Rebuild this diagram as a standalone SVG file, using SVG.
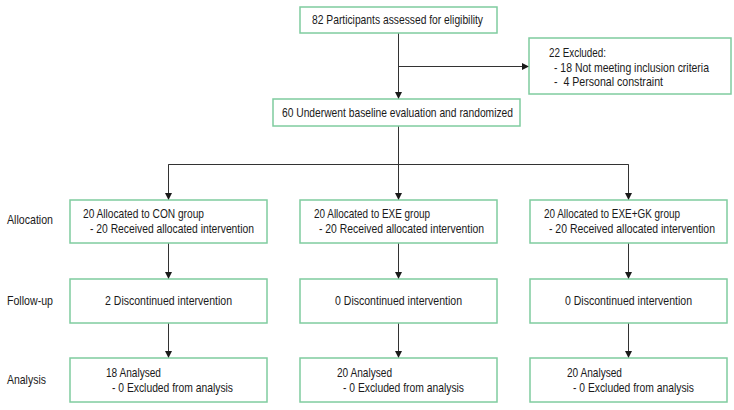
<svg xmlns="http://www.w3.org/2000/svg" width="734" height="410" viewBox="0 0 734 410">
<style>
.box{fill:#fff;stroke:#7fcc9f;stroke-width:1.5}
.t{font-family:"Liberation Sans",Arial,sans-serif;font-size:12.8px;fill:#1a1a1a;transform:scale(0.82,1);transform-origin:0 0}
.c{text-anchor:middle}
.ln{fill:none;stroke:#333;stroke-width:1}
</style>
<defs>
<marker id="ah" viewBox="0 0 10 10" refX="10" refY="5" markerWidth="7" markerHeight="10" markerUnits="userSpaceOnUse" orient="auto">
<path d="M0,0 L10,5 L0,10 Z" fill="#1a1a1a"/>
</marker>
</defs>
<rect width="734" height="410" fill="#fff"/>
<g id="connectors">
<line class="ln" x1="398.5" y1="33" x2="398.5" y2="99" marker-end="url(#ah)"/>
<line class="ln" x1="398.5" y1="66.5" x2="529" y2="66.5" marker-end="url(#ah)"/>
<polyline class="ln" points="398.5,126 398.5,164.5"/>
<polyline class="ln" points="168.5,200 168.5,164.5 628.5,164.5 628.5,200"/>
<line class="ln" x1="168.5" y1="164.5" x2="168.5" y2="200" marker-end="url(#ah)"/>
<line class="ln" x1="398.5" y1="164.5" x2="398.5" y2="200" marker-end="url(#ah)"/>
<line class="ln" x1="628.5" y1="164.5" x2="628.5" y2="200" marker-end="url(#ah)"/>
<line class="ln" x1="168.5" y1="243" x2="168.5" y2="279" marker-end="url(#ah)"/>
<line class="ln" x1="398.5" y1="243" x2="398.5" y2="279" marker-end="url(#ah)"/>
<line class="ln" x1="628.5" y1="243" x2="628.5" y2="279" marker-end="url(#ah)"/>
<line class="ln" x1="168.5" y1="323" x2="168.5" y2="358" marker-end="url(#ah)"/>
<line class="ln" x1="398.5" y1="323" x2="398.5" y2="358" marker-end="url(#ah)"/>
<line class="ln" x1="628.5" y1="323" x2="628.5" y2="358" marker-end="url(#ah)"/>
</g>
<g id="labels">
<text class="t" x="8.54" y="224" textLength="56.1" lengthAdjust="spacingAndGlyphs">Allocation</text>
<text class="t" x="8.54" y="305" textLength="56.1" lengthAdjust="spacingAndGlyphs">Follow-up</text>
<text class="t" x="8.54" y="384" textLength="47.56" lengthAdjust="spacingAndGlyphs">Analysis</text>
</g>
<g id="assessed">
<rect class="box" x="300" y="7" width="197" height="26"/>
<text class="t" x="380.49" y="24.5" textLength="208.54" lengthAdjust="spacingAndGlyphs">82 Participants assessed for eligibility</text>
</g>
<g id="excluded">
<rect class="box" x="529" y="38" width="202" height="56"/>
<text class="t" x="669.51" y="57" textLength="69.51" lengthAdjust="spacingAndGlyphs">22 Excluded:</text>
<text class="t" x="675.61" y="72" textLength="189.02" lengthAdjust="spacingAndGlyphs">- 18 Not meeting inclusion criteria</text>
<text class="t" x="675.61" y="86" xml:space="preserve" textLength="132.93" lengthAdjust="spacingAndGlyphs">-  4 Personal constraint</text>
</g>
<g id="randomized">
<rect class="box" x="273" y="99" width="247" height="27"/>
<text class="t" x="343.9" y="117.3" textLength="281.71" lengthAdjust="spacingAndGlyphs">60 Underwent baseline evaluation and randomized</text>
</g>
<g id="alloc-con">
<rect class="box" x="70" y="200" width="197" height="43"/>
<text class="t" x="101.22" y="218.5" textLength="147.56" lengthAdjust="spacingAndGlyphs">20 Allocated to CON group</text>
<text class="t" x="109.76" y="233.5" textLength="200" lengthAdjust="spacingAndGlyphs">- 20 Received allocated intervention</text>
</g>
<g id="alloc-exe">
<rect class="box" x="300" y="200" width="197" height="43"/>
<text class="t" x="382.93" y="218.5" textLength="141.46" lengthAdjust="spacingAndGlyphs">20 Allocated to EXE group</text>
<text class="t" x="389.02" y="233.5" textLength="201.22" lengthAdjust="spacingAndGlyphs">- 20 Received allocated intervention</text>
</g>
<g id="alloc-exegk">
<rect class="box" x="530" y="200" width="197" height="43"/>
<text class="t" x="663.41" y="218.5" textLength="165.85" lengthAdjust="spacingAndGlyphs">20 Allocated to EXE+GK group</text>
<text class="t" x="669.51" y="233.5" textLength="202.44" lengthAdjust="spacingAndGlyphs">- 20 Received allocated intervention</text>
</g>
<g id="follow-con">
<rect class="box" x="70" y="279" width="197" height="44"/>
<text class="t c" x="205.49" y="305.5" textLength="154.88" lengthAdjust="spacingAndGlyphs">2 Discontinued intervention</text>
</g>
<g id="follow-exe">
<rect class="box" x="300" y="279" width="197" height="44"/>
<text class="t c" x="485.98" y="305.5" textLength="154.88" lengthAdjust="spacingAndGlyphs">0 Discontinued intervention</text>
</g>
<g id="follow-exegk">
<rect class="box" x="530" y="279" width="197" height="44"/>
<text class="t c" x="766.46" y="305.5" textLength="154.88" lengthAdjust="spacingAndGlyphs">0 Discontinued intervention</text>
</g>
<g id="analysis-con">
<rect class="box" x="70" y="358" width="197" height="44"/>
<text class="t" x="129.27" y="377" textLength="67.07" lengthAdjust="spacingAndGlyphs">18 Analysed</text>
<text class="t" x="136.59" y="392" textLength="147.56" lengthAdjust="spacingAndGlyphs">- 0 Excluded from analysis</text>
</g>
<g id="analysis-exe">
<rect class="box" x="300" y="358" width="197" height="44"/>
<text class="t" x="410.98" y="377" textLength="67.07" lengthAdjust="spacingAndGlyphs">20 Analysed</text>
<text class="t" x="418.29" y="392" textLength="147.56" lengthAdjust="spacingAndGlyphs">- 0 Excluded from analysis</text>
</g>
<g id="analysis-exegk">
<rect class="box" x="530" y="358" width="197" height="44"/>
<text class="t" x="691.46" y="377" textLength="67.07" lengthAdjust="spacingAndGlyphs">20 Analysed</text>
<text class="t" x="698.78" y="392" textLength="147.56" lengthAdjust="spacingAndGlyphs">- 0 Excluded from analysis</text>
</g>
</svg>
